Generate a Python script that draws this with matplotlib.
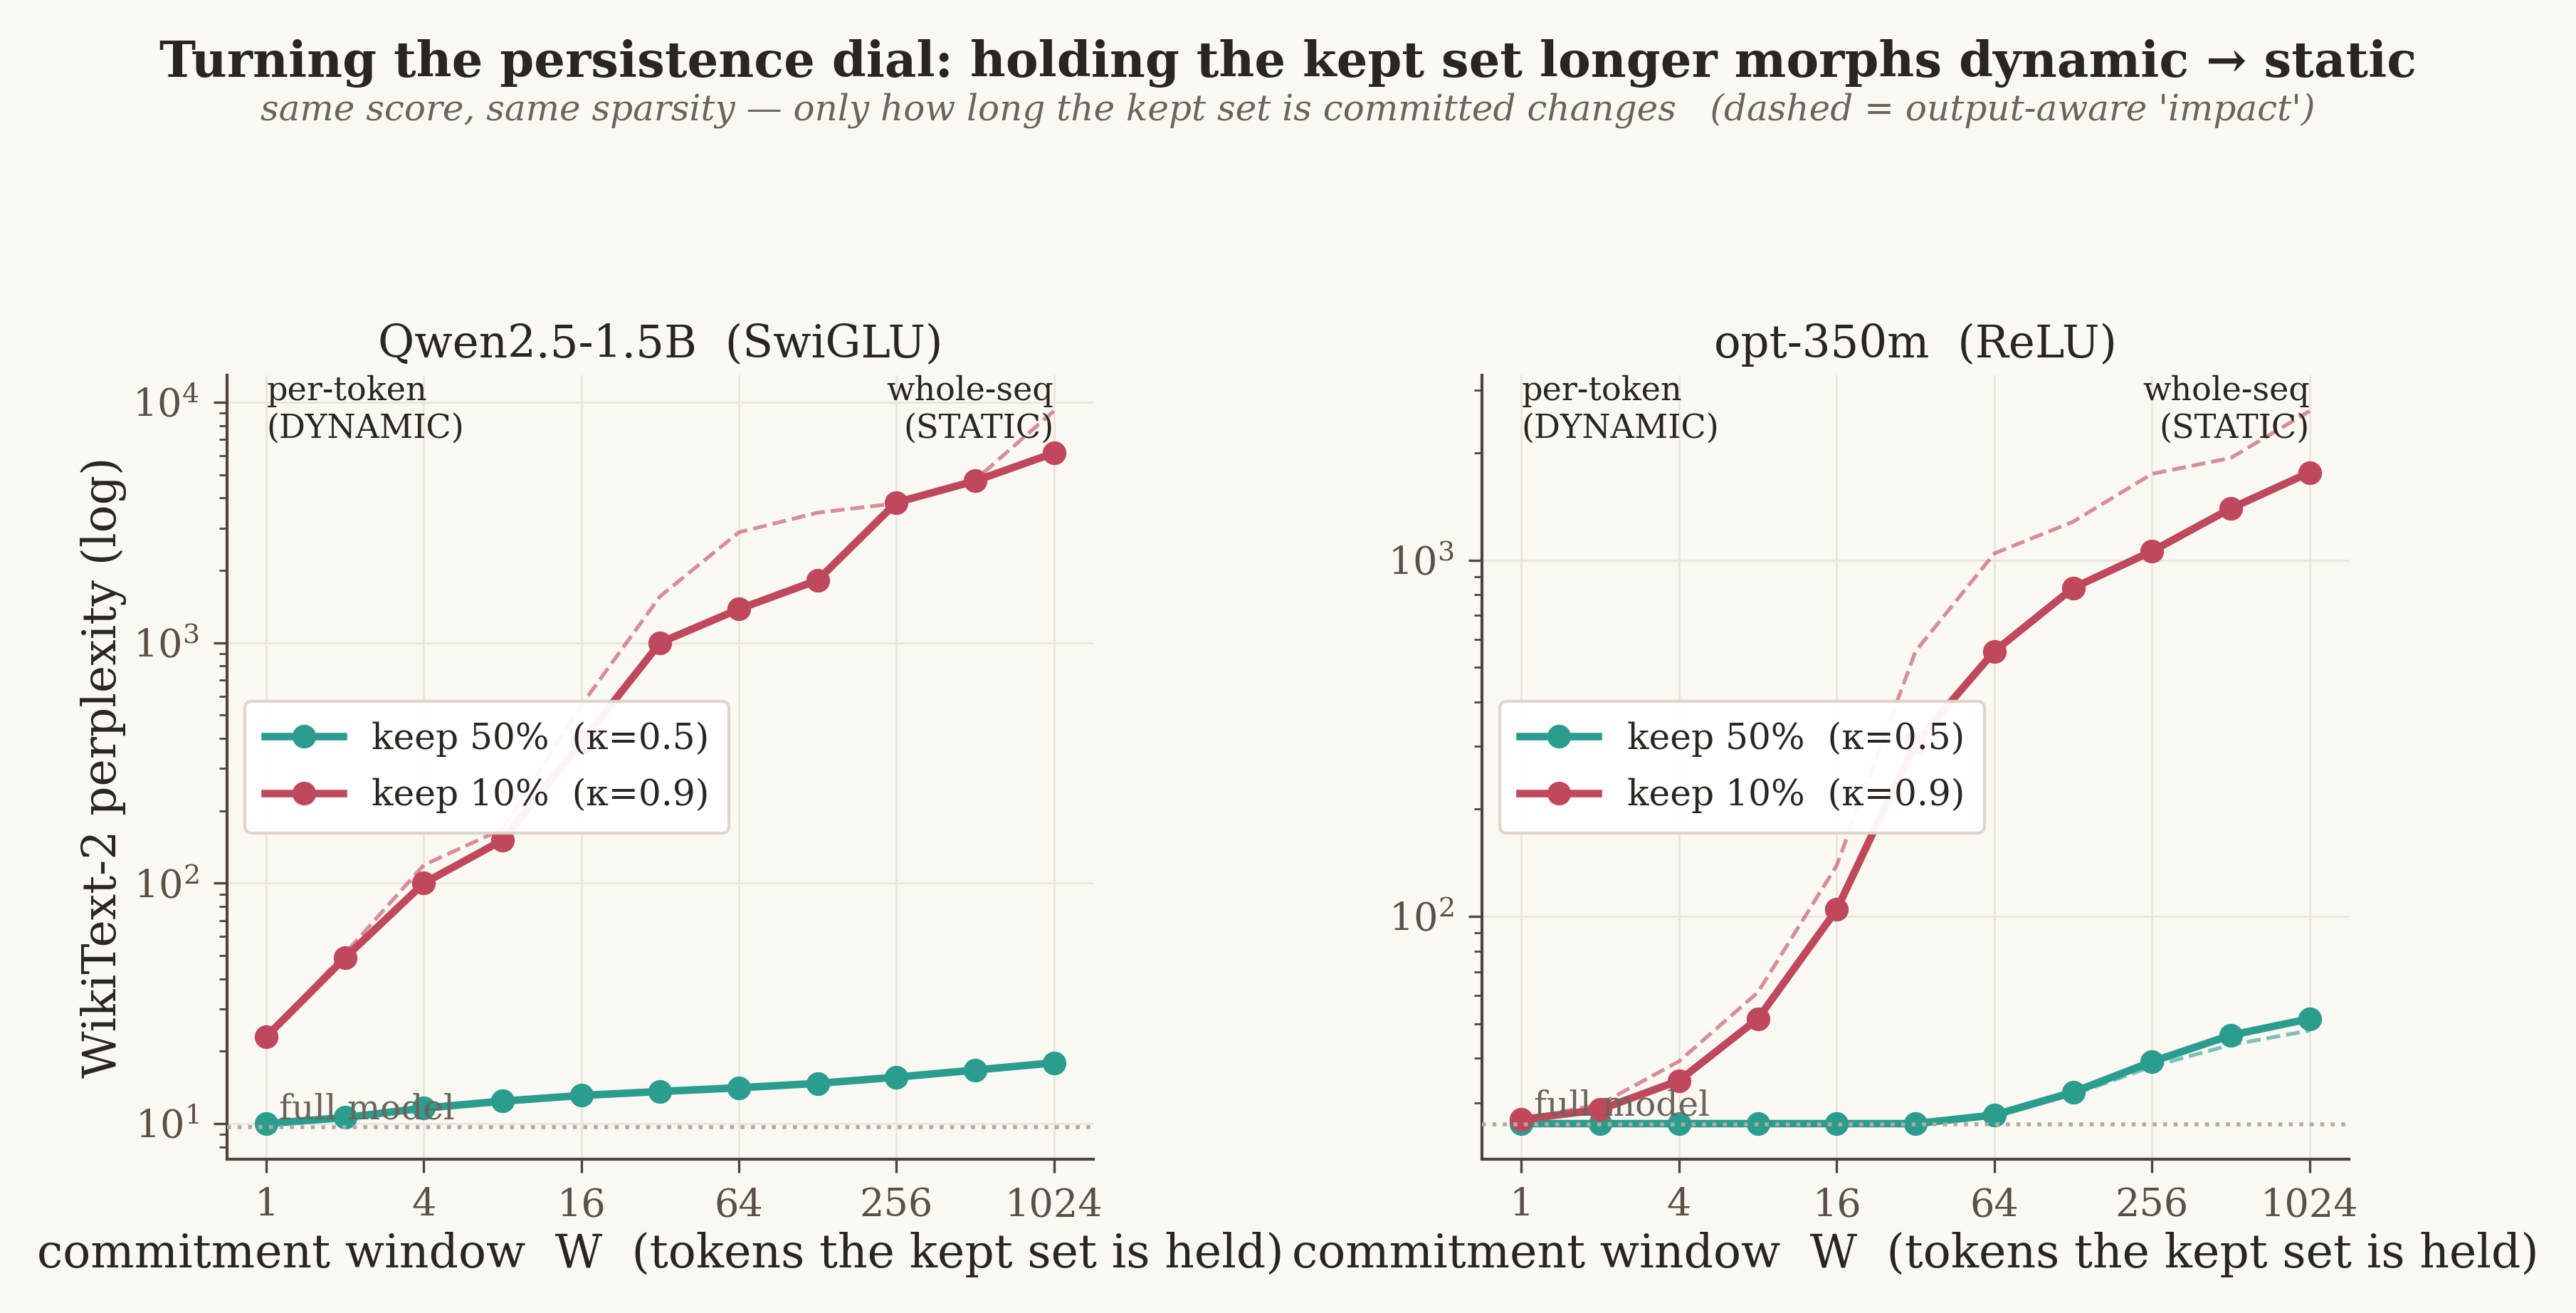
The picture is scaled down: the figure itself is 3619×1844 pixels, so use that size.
import matplotlib
matplotlib.use("Agg")
import matplotlib.pyplot as plt
import matplotlib.transforms as mtransforms
from matplotlib.ticker import NullLocator, FixedLocator, FixedFormatter

# ---------------- data ----------------
W = [1, 2, 4, 8, 16, 32, 64, 128, 256, 512, 1024]
xticks = [1, 4, 16, 64, 256, 1024]
xtick_labels = ["1", "4", "16", "64", "256", "1024"]

panel_titles = ["Qwen2.5-1.5B  (SwiGLU)", "opt-350m  (ReLU)"]
full_model_ppl = [9.68, 26.1]

# Qwen2.5-1.5B
qwen_k05 = [10.0, 10.6, 11.6, 12.4, 13.1, 13.6, 14.1, 14.7, 15.6, 16.7, 17.9]
qwen_k05_impact = [10.0, 10.5, 11.4, 12.2, 12.9, 13.4, 13.9, 14.6, 15.5, 16.6, 17.8]
qwen_k09 = [23.0, 49, 100, 151, 385, 1000, 1380, 1820, 3830, 4710, 6150]
qwen_k09_impact = [23.0, 51, 119, 168, 550, 1560, 2880, 3475, 3800, 4750, 9200]

# opt-350m
opt_k05 = [26.2, 26.2, 26.2, 26.2, 26.2, 26.2, 27.7, 32.1, 39.1, 46.4, 51.6]
opt_k05_impact = [26.2, 26.2, 26.2, 26.2, 26.2, 26.2, 27.6, 31.6, 37.9, 43.6, 47.8]
opt_k09 = [26.9, 28.7, 34.6, 51.6, 104.5, 307, 555, 836, 1060, 1398, 1764]
opt_k09_impact = [26.9, 29.7, 39.2, 61.2, 139, 555, 1045, 1283, 1748, 1937, 2624]

labels = ["keep 50%  (κ=0.5)", "keep 10%  (κ=0.9)"]

solid = [(qwen_k05, qwen_k09), (opt_k05, opt_k09)]
dashed = [(qwen_k05_impact, qwen_k09_impact), (opt_k05_impact, opt_k09_impact)]

# ---------------- style ----------------
BG = "#faf8f3"
TEAL = "#2a9d8f"
RED = "#c0485c"
SPINE = "#4d453b"
TICKC = "#5a5045"
TEXTC = "#2a2520"
GRID = "#ebe6dc"

plt.rcParams["font.family"] = ["DejaVu Serif"]
plt.rcParams["mathtext.fontset"] = "dejavuserif"

fig = plt.figure(figsize=(18.095, 9.22), dpi=200, facecolor=BG)

fig.text(0.5, 0.952, "Turning the persistence dial: holding the kept set longer morphs dynamic \u2192 static",
         ha="center", va="center", fontsize=24.7, fontweight="bold", color=TEXTC)
fig.text(0.5, 0.916, "same score, same sparsity \u2014 only how long the kept set is committed changes   "
         "(dashed = output-aware 'impact')",
         ha="center", va="center", fontsize=18, style="italic", color="#6b645b")

positions = [[0.0881, 0.1171, 0.3363, 0.597], [0.5753, 0.1171, 0.3366, 0.597]]

for i in range(2):
    ax = fig.add_axes(positions[i])
    ax.set_facecolor(BG)
    ax.set_xscale("log", base=2)
    ax.set_yscale("log")

    colors = [TEAL, RED]
    for j in range(2):
        ax.plot(W, dashed[i][j], ls="--", lw=1.9, color=colors[j], alpha=0.6, zorder=3)
        ax.plot(W, solid[i][j], ls="-", lw=3.8, color=colors[j], marker="o", ms=11,
                label=labels[j], zorder=4)

    ax.axhline(full_model_ppl[i], ls=":", lw=2.0, color="#b3aa9c", zorder=5)
    ax.text(1.12, full_model_ppl[i] * 1.012, "full model", fontsize=17.5, color="#6b645b",
            ha="left", va="bottom", zorder=6)

    trans = mtransforms.blended_transform_factory(ax.transData, ax.transAxes)
    ax.text(W[0], 1.0, "per-token\n(DYNAMIC)", transform=trans, fontsize=16.6,
            color=TEXTC, ha="left", va="top", zorder=6, linespacing=1.2)
    ax.text(W[-1], 1.0, "whole-seq\n(STATIC)", transform=trans, fontsize=16.6,
            color=TEXTC, ha="right", va="top", multialignment="right", zorder=6, linespacing=1.2)

    ax.xaxis.set_major_locator(FixedLocator(xticks))
    ax.xaxis.set_major_formatter(FixedFormatter(xtick_labels))
    ax.xaxis.set_minor_locator(NullLocator())

    ax.grid(True, which="major", color=GRID, lw=1.0, zorder=0)
    ax.set_axisbelow(True)

    for s in ["top", "right"]:
        ax.spines[s].set_visible(False)
    for s in ["left", "bottom"]:
        ax.spines[s].set_color(SPINE)
        ax.spines[s].set_linewidth(1.5)

    ax.tick_params(axis="both", which="major", labelsize=19.5, colors=SPINE, labelcolor=TICKC,
                   length=7, width=1.2, pad=7)
    ax.tick_params(axis="y", which="minor", colors=SPINE, length=4, width=1.0)

    ax.set_title(panel_titles[i], fontsize=22.5, color=TEXTC, pad=9)
    ax.set_xlabel("commitment window  W  (tokens the kept set is held)", fontsize=23.3,
                  color=TEXTC, labelpad=4)
    if i == 0:
        ax.set_ylabel("WikiText-2 perplexity (log)", fontsize=23.3, color=TEXTC, labelpad=3)

    leg = ax.legend(loc="center left", fontsize=18.1, frameon=True, facecolor="white",
                    edgecolor="#ddd5c5", framealpha=0.95, handlelength=2.2,
                    borderpad=0.55, labelspacing=0.6)
    leg.get_frame().set_linewidth(1.5)
    for t in leg.get_texts():
        t.set_color(TEXTC)

fig.savefig("out.png", dpi=200, facecolor=BG)
